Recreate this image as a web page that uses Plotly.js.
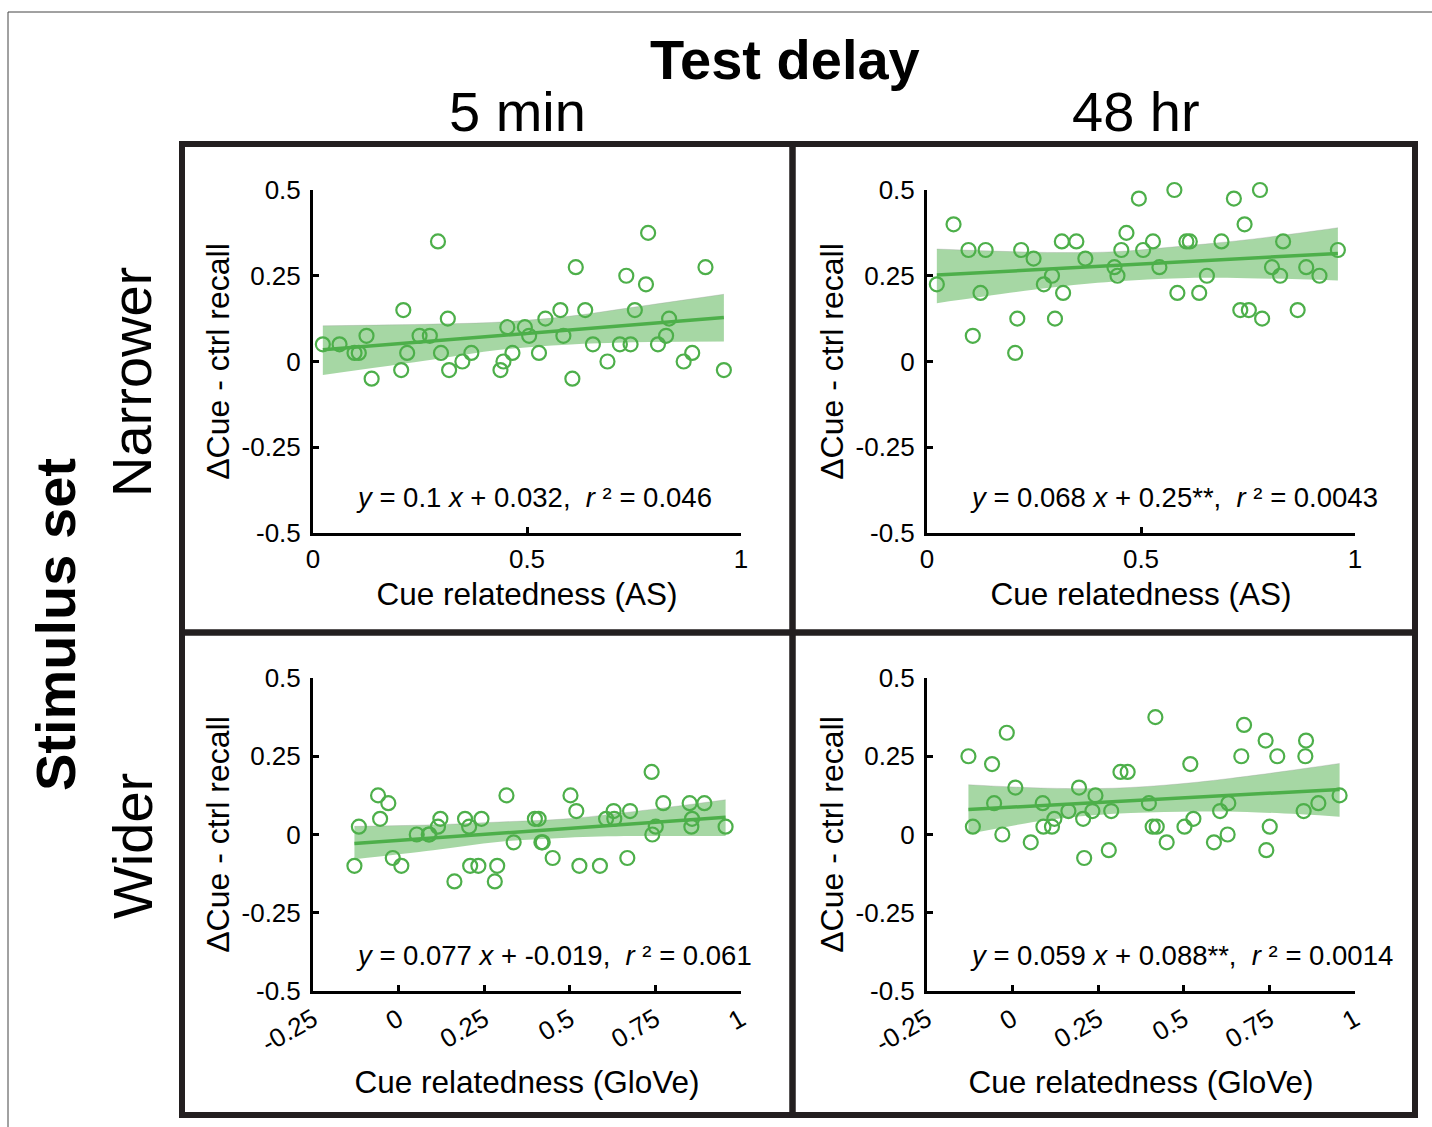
<!DOCTYPE html>
<html>
<head>
<meta charset="utf-8">
<script src="https://cdn.plot.ly/plotly-3.0.1.min.js"></script>
<style>html,body{margin:0;padding:0;background:#fff;}#chart{width:1432px;height:1127px;}</style>
</head>
<body>
<div id="chart"></div>
<script>
// ---------------- data ----------------
// Narrower stimulus set: cue relatedness (AS), shared by both delays
const asX = [0.023,0.062,0.097,0.107,0.125,0.137,0.206,0.211,0.220,0.249,0.273,0.292,0.299,0.315,0.318,0.349,0.370,0.438,0.445,0.454,0.466,0.495,0.505,0.528,0.543,0.578,0.585,0.606,0.614,0.636,0.654,0.688,0.717,0.732,0.742,0.752,0.778,0.783,0.806,0.825,0.832,0.866,0.886,0.917,0.960];
const narrow5minY = [0.05,0.05,0.025,0.025,0.075,-0.05,-0.025,0.15,0.025,0.075,0.075,0.35,0.025,0.125,-0.025,0,0.025,-0.025,0,0.1,0.025,0.1,0.075,0.025,0.125,0.15,0.075,-0.05,0.275,0.15,0.05,0,0.05,0.25,0.05,0.15,0.225,0.375,0.05,0.075,0.125,0,0.025,0.275,-0.025];
const narrow48hY = [0.225,0.4,0.325,0.075,0.2,0.325,0.025,0.125,0.325,0.3,0.225,0.25,0.125,0.35,0.2,0.35,0.3,0.275,0.25,0.325,0.375,0.475,0.325,0.35,0.275,0.5,0.2,0.35,0.35,0.2,0.25,0.35,0.475,0.15,0.4,0.15,0.5,0.125,0.275,0.25,0.35,0.15,0.275,0.25,0.325];
// Wider stimulus set: cue relatedness (GloVe), shared by both delays
const gloveX = [-0.129,-0.116,-0.060,-0.054,-0.030,-0.017,0.008,0.053,0.088,0.090,0.115,0.122,0.163,0.194,0.206,0.209,0.233,0.242,0.281,0.288,0.315,0.336,0.398,0.409,0.417,0.421,0.450,0.502,0.519,0.528,0.588,0.606,0.628,0.630,0.668,0.676,0.739,0.741,0.751,0.773,0.850,0.855,0.857,0.893,0.955];
const wide5minY = [-0.1,0.025,0.125,0.05,0.1,-0.075,-0.1,0,0,0,0.025,0.05,-0.15,0.05,0.025,-0.1,-0.1,0.05,-0.15,-0.1,0.125,-0.025,0.05,0.05,-0.025,-0.025,-0.075,0.125,0.075,-0.1,-0.1,0.05,0.075,0.05,-0.075,0.075,0.2,0,0.025,0.1,0.1,0.025,0.05,0.1,0.025];
const wide48hY = [0.25,0.025,0.225,0.1,0,0.325,0.15,-0.025,0.1,0.025,0.025,0.05,0.075,0.15,0.05,-0.075,0.075,0.125,-0.05,0.075,0.2,0.2,0.1,0.025,0.375,0.025,-0.025,0.025,0.225,0.05,-0.025,0.075,0,0.1,0.25,0.35,0.3,-0.05,0.025,0.25,0.075,0.25,0.3,0.1,0.125];

// regression lines (end points)
const fitX_AS = [0.023, 0.960];
const fitY_n5 = [0.034, 0.128];
const fitY_n48 = [0.252, 0.315];
const fitX_GloVe = [-0.129, 0.955];
const fitY_w5 = [-0.029, 0.055];
const fitY_w48 = [0.080, 0.144];

// confidence bands (upper / lower edges)
const bandX_AS = [0.023, 0.281, 0.437, 0.593, 0.748, 0.960];
const bandUp_n5 = [0.104, 0.109, 0.115, 0.131, 0.158, 0.196];
const bandLo_n5 = [-0.039, 0.006, 0.034, 0.049, 0.056, 0.058];
const bandUp_n48 = [0.328, 0.318, 0.320, 0.336, 0.355, 0.390];
const bandLo_n48 = [0.170, 0.214, 0.233, 0.243, 0.243, 0.236];
const bandX_GloVe = [-0.129, 0.101, 0.296, 0.491, 0.685, 0.955];
const bandUp_w5 = [0.026, 0.031, 0.040, 0.050, 0.073, 0.111];
const bandLo_w5 = [-0.079, -0.050, -0.023, -0.010, -0.005, -0.005];
const bandUp_w48 = [0.159, 0.148, 0.148, 0.162, 0.186, 0.227];
const bandLo_w48 = [0.002, 0.046, 0.066, 0.073, 0.072, 0.057];

const equations = [
  "<i>y</i> = 0.1 <i>x</i> + 0.032,  <i>r</i> \u00b2 = 0.046",
  "<i>y</i> = 0.068 <i>x</i> + 0.25**,  <i>r</i> \u00b2 = 0.0043",
  "<i>y</i> = 0.077 <i>x</i> + -0.019,  <i>r</i> \u00b2 = 0.061",
  "<i>y</i> = 0.059 <i>x</i> + 0.088**,  <i>r</i> \u00b2 = 0.0014"
];
const xTitles = ["Cue relatedness (AS)", "Cue relatedness (AS)", "Cue relatedness (GloVe)", "Cue relatedness (GloVe)"];
const yTitle = "\u0394Cue - ctrl recall";
const colLabels = ["5 min", "48 hr"];
const rowLabels = ["Narrower", "Wider"];
const yTickVals = [-0.5, -0.25, 0, 0.25, 0.5];
const yTickText = ["-0.5", "-0.25", "0", "0.25", "0.5"];
const asTickVals = [0, 0.5, 1];
const asTickText = ["0", "0.5", "1"];
const gloveTickVals = [-0.25, 0, 0.25, 0.5, 0.75, 1];
const gloveTickText = ["-0.25", "0", "0.25", "0.5", "0.75", "1"];

// ---------------- drawing ----------------
const W = 1432, H = 1127;
const px = x => x / W;
const py = y => 1 - y / H;
const FONT = "Liberation Sans, Arial, Helvetica, sans-serif";
const GREEN = "#4daf4a";
const BAND = "rgba(77,175,74,0.5)";

const panels = [
  {xs: asX, ys: narrow5minY, fx: fitX_AS, fy: fitY_n5, bx: bandX_AS, bu: bandUp_n5, bl: bandLo_n5, xr: [0,1], tv: asTickVals, tt: asTickText, ang: 0, box: [313,741,190,533]},
  {xs: asX, ys: narrow48hY, fx: fitX_AS, fy: fitY_n48, bx: bandX_AS, bu: bandUp_n48, bl: bandLo_n48, xr: [0,1], tv: asTickVals, tt: asTickText, ang: 0, box: [927,1355,190,533]},
  {xs: gloveX, ys: wide5minY, fx: fitX_GloVe, fy: fitY_w5, bx: bandX_GloVe, bu: bandUp_w5, bl: bandLo_w5, xr: [-0.25,1], tv: gloveTickVals, tt: gloveTickText, ang: -30, box: [313,741,678,991]},
  {xs: gloveX, ys: wide48hY, fx: fitX_GloVe, fy: fitY_w48, bx: bandX_GloVe, bu: bandUp_w48, bl: bandLo_w48, xr: [-0.25,1], tv: gloveTickVals, tt: gloveTickText, ang: -30, box: [927,1355,678,991]}
];

const traces = [];
const layout = {
  width: W, height: H,
  margin: {l: 0, r: 0, t: 0, b: 0},
  paper_bgcolor: "#fff", plot_bgcolor: "rgba(0,0,0,0)",
  showlegend: false,
  font: {family: FONT, color: "#000"},
  annotations: [],
  shapes: []
};

panels.forEach((p, i) => {
  const n = i === 0 ? "" : String(i + 1);
  const xa = "x" + n, ya = "y" + n;
  traces.push({x: p.bx, y: p.bl, xaxis: xa, yaxis: ya, mode: "lines", line: {width: 0, shape: "spline"}, hoverinfo: "skip"});
  traces.push({x: p.bx, y: p.bu, xaxis: xa, yaxis: ya, mode: "lines", line: {width: 0.6, color: "rgba(150,150,150,0.5)", shape: "spline"}, fill: "tonexty", fillcolor: BAND, hoverinfo: "skip"});
  traces.push({x: p.fx, y: p.fy, xaxis: xa, yaxis: ya, mode: "lines", line: {color: GREEN, width: 3.5}});
  traces.push({x: p.xs, y: p.ys, xaxis: xa, yaxis: ya, mode: "markers", cliponaxis: false,
    marker: {symbol: "circle-open", size: 14, color: GREEN, line: {width: 2.2, color: GREEN}}});

  const [x0, x1, y0, y1] = p.box;
  layout["xaxis" + n] = {
    domain: [px(x0), px(x1)], anchor: ya, range: p.xr, fixedrange: true,
    tickvals: p.tv, ticktext: p.tt, tickangle: p.ang,
    ticks: "inside", ticklen: 6, tickwidth: 3, tickcolor: "#000",
    showline: true, linewidth: 3, linecolor: "#000", mirror: false,
    showgrid: false, zeroline: false,
    tickfont: {family: FONT, size: 26, color: "#000"},
    ticklabelstandoff: p.ang ? 0 : 1,
    title: {text: xTitles[i], font: {family: FONT, size: 31.5, color: "#000"}, standoff: p.ang ? 14 : 10}
  };
  layout["yaxis" + n] = {
    domain: [py(y1), py(y0)], anchor: xa, range: [-0.5, 0.5], fixedrange: true,
    tickvals: yTickVals, ticktext: yTickText,
    ticks: "inside", ticklen: 6, tickwidth: 3, tickcolor: "#000",
    showline: true, linewidth: 3, linecolor: "#000",
    showgrid: false, zeroline: false,
    tickfont: {family: FONT, size: 26, color: "#000"},
    ticklabelstandoff: 4,
    title: {text: yTitle, font: {family: FONT, size: 32, color: "#000"}, standoff: 3}
  };
  // equation
  layout.annotations.push({xref: "paper", yref: "paper", x: px(x0 + 41), y: py(y1 - 36),
    text: equations[i], showarrow: false, xanchor: "left", yanchor: "middle", font: {size: 27.5}});
});

// headers
layout.annotations.push({xref: "paper", yref: "paper", x: px(785), y: py(60), text: "<b>Test delay</b>", showarrow: false, xanchor: "center", yanchor: "middle", font: {size: 56}});
layout.annotations.push({xref: "paper", yref: "paper", x: px(517), y: py(111), text: colLabels[0], showarrow: false, xanchor: "center", yanchor: "middle", font: {size: 56}});
layout.annotations.push({xref: "paper", yref: "paper", x: px(1136), y: py(111), text: colLabels[1], showarrow: false, xanchor: "center", yanchor: "middle", font: {size: 56}});
layout.annotations.push({xref: "paper", yref: "paper", x: px(55), y: py(625), text: "<b>Stimulus set</b>", textangle: -90, showarrow: false, xanchor: "center", yanchor: "middle", font: {size: 56}});
layout.annotations.push({xref: "paper", yref: "paper", x: px(132), y: py(382), text: rowLabels[0], textangle: -90, showarrow: false, xanchor: "center", yanchor: "middle", font: {size: 56}});
layout.annotations.push({xref: "paper", yref: "paper", x: px(132), y: py(846), text: rowLabels[1], textangle: -90, showarrow: false, xanchor: "center", yanchor: "middle", font: {size: 56}});

// panel frames
const FR = "#231f20";
layout.shapes.push({type: "rect", xref: "paper", yref: "paper", x0: px(182), x1: px(1415), y0: py(1115), y1: py(144), line: {color: FR, width: 6}});
layout.shapes.push({type: "line", xref: "paper", yref: "paper", x0: px(792.5), x1: px(792.5), y0: py(1115), y1: py(144), line: {color: FR, width: 6.5}});
layout.shapes.push({type: "line", xref: "paper", yref: "paper", x0: px(182), x1: px(1415), y0: py(632.5), y1: py(632.5), line: {color: FR, width: 6.5}});
// thin outer frame
layout.shapes.push({type: "line", xref: "paper", yref: "paper", x0: px(8), x1: px(1432), y0: py(12), y1: py(12), line: {color: "#444", width: 1}});
layout.shapes.push({type: "line", xref: "paper", yref: "paper", x0: px(8), x1: px(8), y0: py(12), y1: py(1127), line: {color: "#444", width: 1}});

Plotly.newPlot("chart", traces, layout, {staticPlot: true, displayModeBar: false});
</script>
</body>
</html>
